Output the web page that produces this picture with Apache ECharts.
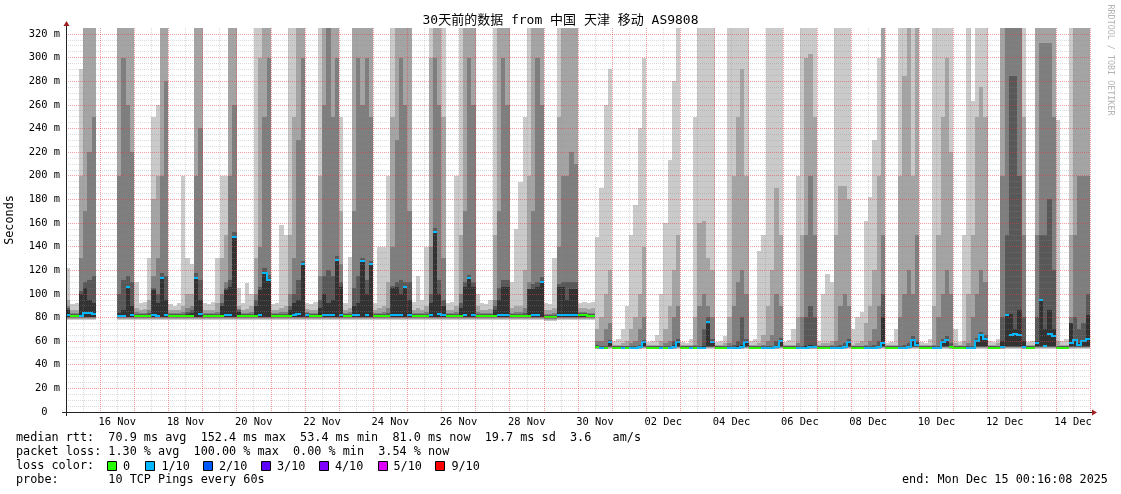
<!DOCTYPE html>
<html><head><meta charset="utf-8">
<script src="https://cdn.jsdelivr.net/npm/echarts@6/dist/echarts.min.js"></script>
<style>html,body{margin:0;padding:0;background:#fff}#c{width:1121px;height:494px}</style>
</head><body><div id="c"></div>
<script>
// ---- time bins: 3 hours each, starting 15 Nov 00:00, 8 bins per day (one line per day) ----
const binHours = 3;
const median = [
82,81,81,81,84,84,83,null,
null,null,null,null,81,81,106,82,
81,81,81,81,82,81,113,82,
81,81,81,81,81,81,113,83,
81,81,81,81,81,82,82,148,
81,81,81,81,81,82,118,112,
81,81,81,81,81,82,83,125,
82,81,81,81,82,82,82,129,
82,81,81,82,82,128,82,125,
81,81,81,81,82,82,82,106,
82,81,81,81,81,82,152,83,
82,81,81,81,81,82,113,82,
81,81,81,81,81,82,82,82,
81,81,81,81,81,82,82,110,
80,80,80,82,82,82,82,82,
82,82,81,81,55,54.5,54.5,59.5,
54.5,54.5,54.5,54.5,54.5,54.5,55,59.5,
54.5,54.5,54.5,54.5,54.5,54.5,55,59.5,
54.5,54.5,54.5,54.5,54.5,54.5,76,59.5,
54.5,54.5,54.5,54.5,54.5,54.5,55,59.5,
54.5,54.5,54.5,54.5,54.5,54.5,55,60.5,
54.5,54.5,54.5,54.5,54.5,54.5,55,55,
54.5,54.5,54.5,54.5,54.5,54.5,55,59,
54.5,54.5,54.5,54.5,54.5,54.5,55,58,
54.5,54.5,54.5,54.5,54.5,55,61,57,
54.5,54.5,54.5,54.5,54.5,59,61,55,
54.5,54.5,54.5,54.5,54.5,60,65,62,
54.5,54.5,54.5,55,82,65,66,65,
55,54.5,54.5,58,95,56,66,64,
54.5,54.5,54.5,58,61,57,60,62
];
// lost pings out of 10 for each bin
const lossCount = [
1,0,0,1,1,1,1,0,
0,0,0,0,1,1,1,1,
0,0,0,0,1,1,1,1,
0,0,0,0,0,0,1,1,
0,0,0,0,0,1,1,1,
0,0,0,0,0,1,1,1,
0,0,0,0,0,1,1,1,
1,0,0,0,1,1,1,1,
1,0,0,1,1,1,1,1,
0,0,0,0,1,1,1,1,
1,0,0,0,0,1,1,1,
1,0,0,0,0,1,1,1,
0,0,0,0,0,1,1,1,
0,0,0,0,0,1,1,1,
0,0,0,1,1,1,1,1,
0,0,0,0,0,1,0,1,
0,0,1,0,1,1,1,1,
0,0,0,1,0,1,1,1,
0,0,1,0,1,1,1,1,
0,0,0,1,1,1,1,1,
0,0,0,1,1,1,1,1,
0,0,0,1,1,1,1,1,
0,0,0,1,1,1,1,1,
0,0,0,1,1,1,1,1,
0,0,0,1,1,1,1,1,
0,0,0,1,1,1,1,0,
0,0,0,1,1,1,1,1,
0,0,0,1,1,1,1,1,
1,0,0,1,1,1,1,1,
0,0,0,1,1,1,1,1
];
// lowest ping (bottom of smoke)
const minRtt = [
78,78,78,78,78,78,78,null,
null,null,null,null,78,78,78,78,
78,78,78,78,78,78,78,78,
78,78,78,78,78,78,78,78,
78,78,78,78,78,78,78,78,
78,78,78,78,78,78,78,78,
78,78,78,78,78,78,78,78,
78,78,78,78,78,78,78,78,
78,78,78,78,78,78,78,78,
78,78,78,78,78,78,78,78,
78,78,78,78,78,78,78,78,
78,78,78,78,78,78,78,78,
78,78,78,78,78,78,78,78,
78,78,78,78,78,78,78,78,
77,77,77,78,78,78,78,78,
78,78,78,78,53,53,53,53,
53,53,53,53,53,53,53,53,
53,53,53,53,53,53,53,53,
53,53,53,53,53,53,53,53,
53,53,53,53,53,53,53,53,
53,53,53,53,53,53,53,53,
53,53,53,53,53,53,53,53,
53,53,53,53,53,53,53,53,
53,53,53,53,53,53,53,53,
53,53,53,53,53,53,53,53,
53,53,53,53,53,53,53,53,
53,53,53,53,53,53,53,53,
53,53,53,53,53,53,53,53,
53,53,53,53,53,53,53,53,
53,53,53,53,53,53,53,53
];
// 6th ping (top of darkest smoke)
const ping6 = [
86,82,82,100,105,95,92,null,
null,null,null,null,84,86,106,90,
82,82,82,82,103,92,113,95,
82,82,82,82,83,84,113,95,
82,82,82,82,90,103,106,148,
85,82,82,82,90,103,118,112,
82,82,82,82,86,92,95,125,
83,82,82,88,100,92,95,129,
106,82,82,90,92,128,100,125,
82,82,82,82,105,106,100,106,
95,82,82,82,82,92,152,100,
90,82,82,82,88,106,113,106,
82,82,82,82,86,95,106,106,
82,82,82,82,104,104,106,110,
81,81,81,106,106,95,104,104,
83,83,82,82,56,55,55,60,
55,55,55,55,55,55,56,60,
55,55,55,55,55,55,57,60,
55,55,55,55,55,56,76,60,
55,55,55,55,55,56,57,60,
55,55,55,55,55,55,56,61,
55,55,55,55,55,56,57,56,
55,55,55,55,55,55,56,60,
55,55,55,55,55,55,56,80,
55,55,55,55,55,56,62,58,
55,55,55,55,55,60,62,56,
55,55,55,55,55,61,66,63,
55,55,55,60,83,83,70,86,
60,55,55,60,95,70,86,70,
55,55,55,75,62,58,61,82
];
// 7th ping
const ping7 = [
88,83,83,102,110,112,115,null,
null,null,null,null,100,112,115,110,
83,83,83,84,105,100,118,115,
83,83,83,83,85,86,118,112,
83,83,83,83,92,105,112,152,
86,83,83,83,95,106,122,116,
83,83,83,83,90,100,112,128,
84,83,83,95,115,120,115,132,
110,83,83,105,115,130,112,128,
83,83,83,84,107,110,112,110,
110,83,83,83,83,100,156,112,
95,83,83,83,92,110,116,110,
83,83,83,83,90,105,112,112,
83,83,83,84,104,108,110,114,
82,82,82,108,110,110,110,110,
84,84,83,83,57,56,56,61,
55.5,55.5,55.5,55.5,56,56,57,61,
55.5,55.5,55.5,55.5,56,56,60,62,
55.5,55.5,55.5,56,56,70,80,62,
55.5,55.5,55.5,56,57,60,80,62,
55.5,55.5,55.5,55.5,56,56,60,63,
55.5,55.5,55.5,56,56,80,90,80,
55.5,55.5,55.5,55.5,56,57,58,62,
55.5,55.5,55.5,55.5,56,57,60,100,
55.5,55.5,55.5,56,57,58,64,60,
55.5,55.5,55.5,55.5,56,62,64,58,
55.5,55.5,55.5,56,56,63,68,65,
55.5,55.5,55.5,80,150,284,284,200,
80,55.5,55.5,80,150,150,180,120,
55.5,55.5,55.5,75,80,70,75,100
];
// 8th ping
const ping8 = [
90,84,84,130,170,220,250,null,
null,null,null,null,200,300,260,220,
85,84,84,86,115,130,200,280,
84,84,84,85,88,90,200,240,
84,84,84,85,100,110,200,260,
87,84,84,85,100,140,250,300,
84,84,85,85,100,130,230,300,
85,84,84,115,260,330,250,300,
125,84,85,170,300,260,300,250,
84,84,85,88,140,230,300,260,
170,84,84,84,85,140,300,260,
130,84,84,85,100,170,300,260,
85,84,84,84,95,170,300,260,
84,85,85,88,110,170,300,260,
83,83,84,140,200,200,220,210,
85,85,84,84,60,60,70,75,
56,56,56,56,58,60,70,80,
56,56,56,56,58,60,80,90,
56,56,56,57,90,100,90,80,
56,56,56,58,90,110,120,100,
56,56,56,57,60,65,100,90,
56,56,56,58,80,150,200,150,
56,56,56,57,60,90,100,90,
56,56,56,57,60,70,90,150,
56,56,56,80,100,120,100,150,
56,56,56,57,80,100,120,100,
56,56,56,58,80,100,120,110,
56,56,56,200,330,330,330,330,
150,56,56,150,312,312,312,250,
56,56,56,80,150,200,200,200
];
// 9th ping
const ping9 = [
95,86,86,200,330,330,330,null,
null,null,null,null,330,330,330,330,
88,86,87,95,180,200,330,330,
86,86,86,90,100,100,330,330,
86,86,86,92,130,150,330,330,
90,86,87,90,130,300,330,330,
86,86,88,90,150,250,330,330,
87,86,86,200,330,330,330,330,
170,86,88,330,330,330,330,330,
86,88,90,110,250,330,330,330,
330,86,88,86,90,300,330,330,
250,86,86,90,150,330,330,330,
90,86,86,87,150,330,330,330,
88,90,90,120,200,330,330,330,
86,86,88,250,330,330,330,330,
88,88,87,88,70,80,100,120,
57,57,58,60,70,80,100,140,
57,57,57,60,70,90,120,150,
57,57,57,80,160,162,130,120,
57,57,58,80,200,250,290,200,
57,57,58,65,90,120,190,150,
57,57,57,80,150,300,303,250,
57,58,58,60,150,191,191,180,
57,58,60,75,90,120,200,330,
57,57,57,200,284,330,200,330,
57,57,57,90,150,250,300,220,
58,57,60,100,150,250,275,250,
57,57,58,330,330,330,330,330,
250,57,57,330,330,330,330,330,
60,57,57,150,330,330,330,330
];
// highest ping (top of lightest smoke)
const ping10 = [
122,91,92,290,330,330,330,null,
null,null,null,null,330,330,330,330,
110,92,93,130,250,260,330,330,
91,90,92,200,130,125,330,330,
92,91,93,130,200,200,330,330,
105,92,109,100,330,330,330,330,
91,92,158,150,330,330,330,330,
92,91,93,330,330,330,330,330,
250,92,131,330,330,330,330,330,
92,140,140,200,330,330,330,330,
330,93,115,95,140,330,330,330,
330,92,93,200,330,330,330,330,
100,92,91,95,330,330,330,330,
110,155,195,250,330,330,330,330,
92,91,130,330,330,330,330,330,
92,93,92,93,148,190,260,290,
60,62,70,90,150,175,240,300,
59,60,65,100,160,213,280,330,
59,58,62,250,330,330,330,330,
59,60,64,330,330,330,330,330,
60,62,136,150,330,330,330,330,
59,61,70,200,330,330,330,330,
60,100,117,110,330,330,330,330,
70,80,85,162,182,230,300,330,
58,59,70,330,330,330,330,330,
59,58,62,330,330,330,330,330,
70,59,150,330,263,330,330,330,
60,59,62,330,330,330,330,330,
330,59,60,330,330,330,330,330,
247,60,62,330,330,330,330,330
];
const dateLabels = ['16 Nov','18 Nov','20 Nov','22 Nov','24 Nov','26 Nov','28 Nov','30 Nov','02 Dec','04 Dec','06 Dec','08 Dec','10 Dec','12 Dec','14 Dec'];
const lossLevels = [0,1,2,3,4,5,9];
const lossLabels = ['0','1/10','2/10','3/10','4/10','5/10','9/10'];
const lossColors = ['#26ff00','#00b8ff','#0059ff','#5e00ff','#7e00ff','#dd00ff','#ff0000'];
const titleText = '30天前的数据 from 中国 天津 移动 AS9808';
const statLines = [
  'median rtt:  70.9 ms avg  152.4 ms max  53.4 ms min  81.0 ms now  19.7 ms sd  3.6   am/s',
  'packet loss: 1.30 % avg  100.00 % max  0.00 % min  3.54 % now',
  'loss color:',
  'probe:       10 TCP Pings every 60s'
];
const endText = 'end: Mon Dec 15 00:16:08 2025';

// ---- rendering ----
const MONO = "'DejaVu Sans Mono', 'Noto Sans CJK SC', monospace";
const Y_MAX = 325, X_MAX = 720;
const SMOKE = ['#cacaca','#a4a4a4','#7e7e7e','#585858','#323232'];
const GRID_C = 'rgba(143,143,143,0.32)';
const MGRID_C = 'rgba(233,59,59,0.5)';
const AXIS_C = '#222';
const ARROW_C = '#a02020';
function lossColor(n){ let c = lossColors[0]; lossLevels.forEach((l,i)=>{ if (n >= l) c = lossColors[i]; }); return c; }

const items = [];
for (let k = 0; k < median.length; k++) {
  if (median[k] == null) continue;
  items.push([k*binHours, (k+1)*binHours, minRtt[k], median[k], ping6[k], ping7[k], ping8[k], ping9[k], ping10[k], lossCount[k],
    k > 0 && median[k-1] != null ? median[k-1] : NaN, k > 0 ? lossCount[k-1] : NaN]);
}

function renderItem(params, api) {
  const X = t => Math.round(api.coord([t, 0])[0]);
  const Y = v => Math.round(api.coord([0, Math.min(v, Y_MAX)])[1]);
  const x0 = X(api.value(0)), x1 = X(api.value(1));
  const lo = api.value(2), med = api.value(3);
  const tops = [api.value(8), api.value(7), api.value(6), api.value(5), api.value(4)];
  const base = Math.min(med, lo + 3);
  const frac = [0, 0.3, 0.55, 0.75, 0.9];
  const kids = [];
  tops.forEach((top, i) => {
    const yb = Y(lo + frac[i]*(base - lo)), yt = Y(top);
    if (yb > yt) kids.push({type:'rect', shape:{x:x0, y:yt, width:x1-x0, height:yb-yt}, style:{fill:SMOKE[i]}});
  });
  const loss = api.value(9);
  const col = lossColor(loss);
  const ym = Y(med);
  kids.push({type:'line', shape:{x1:x0, y1:ym, x2:x1, y2:ym}, style:{stroke:col, lineWidth:2}});
  const pm = api.value(10), pl = api.value(11);
  if (!isNaN(pm) && pl === loss && Math.abs(pm - med) <= 8 && pm !== med) {
    const yp = Y(pm);
    kids.push({type:'line', shape:{x1:x0, y1:yp + (yp<ym?-1:1), x2:x0, y2:ym + (yp<ym?1:-1)}, style:{stroke:col, lineWidth:2}});
  }
  return {type:'group', children:kids};
}

const chart = echarts.init(document.getElementById('c'), null, {renderer:'canvas'});
const graphics = [];
graphics.push({type:'text', x:560.5, y:21, style:{text:titleText, font:'13px '+MONO, fill:'#000', align:'center', verticalAlign:'middle'}});
graphics.push({type:'text', x:10, y:220, rotation:Math.PI/2, style:{text:'Seconds', font:'11.8px '+MONO, fill:'#000', align:'center', verticalAlign:'middle'}});
graphics.push({type:'text', x:1110, y:60, rotation:-Math.PI/2, style:{text:'RRDTOOL / TOBI OETIKER', font:'8.4px '+MONO, fill:'#b4b4b4', align:'center', verticalAlign:'middle'}});
const lineY = [438, 452, 466, 480];
statLines.forEach((s,i)=> graphics.push({type:'text', x:16, y:lineY[i], style:{text:s, font:'11.8px '+MONO, fill:'#000', align:'left', verticalAlign:'middle'}}));
const squareX = [107,145.4,202.9,261,318.9,377.5,435.4];
lossLabels.forEach((lab,i)=>{
  graphics.push({type:'rect', shape:{x:Math.round(squareX[i])+0.5, y:lineY[2]-4.5, width:9, height:9}, style:{fill:lossColors[i], stroke:'#000', lineWidth:1}});
  graphics.push({type:'text', x:squareX[i]+16, y:lineY[2]+0.5, style:{text:lab, font:'11.8px '+MONO, fill:'#000', align:'left', verticalAlign:'middle'}});
});
graphics.push({type:'text', x:902, y:lineY[3], style:{text:endText, font:'11.8px '+MONO, fill:'#000', align:'left', verticalAlign:'middle'}});

chart.setOption({
  animation:false,
  backgroundColor:'#fff',
  grid:{left:66, top:28, width:1024, height:384, containLabel:false, outerBoundsMode:'none'},
  xAxis:{
    type:'value', min:0, max:X_MAX, interval:12, z:10,
    axisLine:{show:true, onZero:false, lineStyle:{color:AXIS_C, width:1}},
    axisTick:{show:false},
    axisLabel:{show:true, color:'#000', fontFamily:MONO, fontSize:10.4, margin:5,
      formatter: v => { const r = v - 36; return (r >= 0 && r % 48 === 0) ? (dateLabels[r/48] || '') : ''; }},
    splitLine:{show:true, lineStyle:{color:[MGRID_C, GRID_C], type:[1,1], width:1}}
  },
  yAxis:{
    type:'value', min:0, max:Y_MAX, interval:5, z:10,
    axisLine:{show:true, onZero:false, lineStyle:{color:AXIS_C, width:1}},
    axisTick:{show:false},
    axisLabel:{show:true, color:'#000', fontFamily:MONO, fontSize:10.4, margin:6, showMaxLabel:false,
      formatter: v => v % 20 === 0 ? (v === 0 ? '0  ' : v + ' m') : ''},
    splitLine:{show:true, showMaxLine:false, lineStyle:{color:[MGRID_C, GRID_C, GRID_C, GRID_C], type:[1,1], width:1}}
  },
  series:[{type:'custom', renderItem, data:items, clip:true, z:2, silent:true,
    encode:{x:[0,1], y:[2,3,4,5,6,7,8]}}],
  graphic:graphics
});
// axis extensions and arrows placed via the chart's own scales
const pO = chart.convertToPixel({gridIndex:0}, [0, 0]).map(Math.round);
const pEnd = chart.convertToPixel({gridIndex:0}, [X_MAX, 0]).map(Math.round);
const pTop = chart.convertToPixel({gridIndex:0}, [0, Y_MAX]).map(Math.round);
const ax = pO[0] + 0.5, ay = pO[1] + 0.5;
graphics.push({type:'polyline', z:20, shape:{points:[[pO[0]-4, ay],[pEnd[0]+2, ay]]}, style:{stroke:AXIS_C, lineWidth:1}});
graphics.push({type:'polyline', z:20, shape:{points:[[ax, pO[1]+4],[ax, pTop[1]-2]]}, style:{stroke:AXIS_C, lineWidth:1}});
graphics.push({type:'polygon', z:20, shape:{points:[[pEnd[0]+2, ay-3],[pEnd[0]+7, ay],[pEnd[0]+2, ay+3]]}, style:{fill:ARROW_C}});
graphics.push({type:'polygon', z:20, shape:{points:[[ax-3, pTop[1]-2],[ax, pTop[1]-7],[ax+3, pTop[1]-2]]}, style:{fill:ARROW_C}});
chart.setOption({graphic:graphics});
</script>
</body></html>
